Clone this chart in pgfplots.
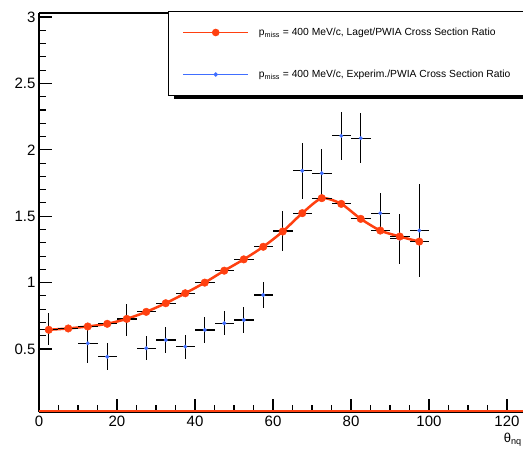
\documentclass[border=0pt]{standalone}
\usepackage{pgfplots}
\pgfplotsset{compat=1.18}
\usepackage{fontspec}
\setmainfont{Liberation Sans}
\definecolor{lred}{RGB}{255,64,16}
\definecolor{eblue}{RGB}{64,110,255}
\begin{document}
\begin{tikzpicture}
% legend shadow (decoration)
\fill[black] (135pt,313pt) rectangle (620pt,397pt);
\begin{axis}[
  at={(0,0)}, anchor=south west,
  scale only axis, width=484pt, height=399pt,
  xmin=0, xmax=124.1, ymin=0.026, ymax=3.03,
  axis y line*=left, axis x line*=box,
  tick pos=left,
  axis line style={line width=1.3pt, black},
  xtick={0,20,...,120}, minor x tick num=3,
  ytick={0.5,1,1.5,2,2.5,3}, minor y tick num=4,
  major tick length=13pt, minor tick length=7pt,
  tick style={line width=1.1pt, black},
  /pgf/number format/assume math mode=true,
  tick label style={font=\fontsize{15}{15}\selectfont},
  xlabel={θ\textsubscript{nq}},
  xlabel style={at={(axis description cs:1.0,-0.045)}, anchor=north east, inner xsep=1pt, font=\fontsize{13}{13}\selectfont},
  legend cell align=left,
  legend style={at={(axis description cs:0.2665,1.005)}, anchor=north west,
    draw=black, line width=1pt, fill=white,
    font=\fontsize{10.3}{11}\selectfont,
    inner xsep=14pt, inner ysep=0pt, row sep=0pt, column sep=10pt,
    nodes={minimum height=42pt, inner sep=0pt, text depth=2pt}},
  legend image code/.code={\draw[mark repeat=2,mark phase=2,#1] plot coordinates {(0pt,0pt) (32.5pt,0pt) (65pt,0pt)};},
]
% red line along the bottom
\addplot[lred, line width=2pt, forget plot] coordinates {(0,0.034) (124.1,0.034)};

% Experimental / PWIA
\addplot[forget plot, only marks, mark=*, mark size=1.8pt, color=eblue,
  error bars/.cd, x dir=both, y dir=both, x explicit, y explicit,
  error bar style={black, line width=1.2pt}, error mark=none]
  table[x=x, y=y, x error=ex, y error=ey] {
x    y     ex   ey
2.5  0.65  2.5  0.12
12.5 0.543 2.5  0.15
17.5 0.442 2.5  0.10
22.5 0.72  2.5  0.12
27.5 0.506 2.5  0.09
32.5 0.568 2.5  0.10
37.5 0.518 2.5  0.09
42.5 0.644 2.5  0.095
47.5 0.694 2.5  0.09
52.5 0.719 2.5  0.095
57.5 0.907 2.5  0.10
62.5 1.39  2.5  0.15
67.5 1.842 2.5  0.21
72.5 1.824 2.5  0.18
77.5 2.105 2.5  0.18
82.5 2.088 2.5  0.19
87.5 1.523 2.5  0.15
92.5 1.33  2.5  0.19
97.5 1.392 2.5  0.35
};

% Laget / PWIA curve
\addplot[forget plot, lred, line width=2.5pt, smooth, tension=0.4] table[x=x, y=y] {
x    y
2.5  0.645
7.5  0.655
12.5 0.67
17.5 0.69
22.5 0.727
27.5 0.78
32.5 0.845
37.5 0.92
42.5 1.0
47.5 1.09
52.5 1.175
57.5 1.27
62.5 1.385
67.5 1.523
72.5 1.636
77.5 1.593
82.5 1.48
87.5 1.392
92.5 1.347
97.5 1.309
};

\addplot[forget plot, only marks, mark=*, mark size=3.8pt, color=lred,
  error bars/.cd, x dir=both, y dir=both, x explicit, y explicit,
  error bar style={black, line width=1.2pt}, error mark=none]
  table[x=x, y=y, x error=ex, y error=ey] {
x    y     ex   ey
2.5  0.645 2.5  0.02
7.5  0.655 2.5  0.02
12.5 0.67  2.5  0.02
17.5 0.69  2.5  0.02
22.5 0.727 2.5  0.02
27.5 0.78  2.5  0.02
32.5 0.845 2.5  0.02
37.5 0.92  2.5  0.02
42.5 1.0   2.5  0.02
47.5 1.09  2.5  0.02
52.5 1.175 2.5  0.02
57.5 1.27  2.5  0.02
62.5 1.385 2.5  0.02
67.5 1.523 2.5  0.02
72.5 1.636 2.5  0.02
77.5 1.593 2.5  0.02
82.5 1.48  2.5  0.02
87.5 1.392 2.5  0.02
92.5 1.347 2.5  0.02
97.5 1.309 2.5  0.02
};

\addlegendimage{lred, line width=1.5pt, mark=*, mark size=3pt}
\addlegendentry{p\textsubscript{miss} = 400  MeV/c, Laget/PWIA  Cross Section Ratio}
\addlegendimage{eblue, line width=1.2pt, mark=*, mark size=1.6pt}
\addlegendentry{p\textsubscript{miss} = 400  MeV/c, Experim./PWIA Cross Section Ratio}
\end{axis}
\pgfresetboundingbox
\path[use as bounding box] (-39pt,-39pt) rectangle (484pt,412pt);
\end{tikzpicture}
\end{document}
